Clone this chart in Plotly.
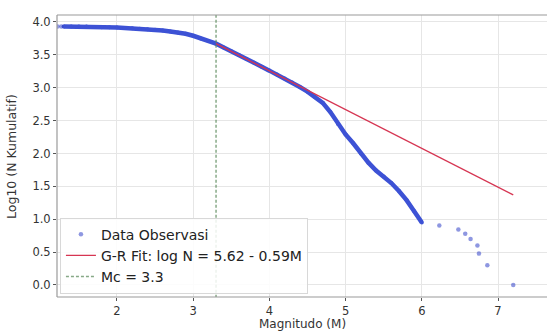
import plotly.graph_objects as go

# Observed cumulative counts (log10 N) — dense section read at 0.1 steps
obs_m = [1.3, 1.4, 1.5, 1.6, 1.7, 1.8, 1.9, 2.0, 2.1, 2.2, 2.3, 2.4, 2.5, 2.6, 2.7, 2.8, 2.9,
         3.0, 3.1, 3.2, 3.3, 3.4, 3.5, 3.6, 3.7, 3.8, 3.9, 4.0, 4.1, 4.2, 4.3, 4.4, 4.5,
         4.6, 4.7, 4.8, 4.9, 5.0, 5.1, 5.2, 5.3, 5.4, 5.5, 5.6, 5.7, 5.8, 5.9, 6.0]
obs_logn = [3.93, 3.93, 3.93, 3.93, 3.925, 3.92, 3.92, 3.915, 3.91, 3.905, 3.895, 3.89, 3.88,
            3.87, 3.855, 3.84, 3.82, 3.79, 3.75, 3.71, 3.67, 3.61, 3.555, 3.496, 3.437, 3.378,
            3.319, 3.26, 3.20, 3.14, 3.08, 3.01, 2.94, 2.86, 2.77, 2.63, 2.45, 2.29, 2.155,
            2.0, 1.86, 1.74, 1.65, 1.55, 1.43, 1.29, 1.12, 0.95]

# Sparse points (left start and large-magnitude tail)
sparse_m = [1.22, 1.27, 6.23, 6.48, 6.57, 6.64, 6.73, 6.75, 6.86, 7.20]
sparse_logn = [3.93, 3.93, 0.903, 0.845, 0.778, 0.699, 0.602, 0.477, 0.301, 0.0]

# Gutenberg-Richter fit line endpoints
fit_m = [3.3, 7.2]
fit_logn = [3.67, 1.37]
fit_label = "G-R Fit: log N = 5.62 - 0.59M"

# Magnitude of completeness
mc_value = 3.3
mc_label = "Mc = 3.3"

x_ticks = [2, 3, 4, 5, 6, 7]
y_ticks = [0.0, 0.5, 1.0, 1.5, 2.0, 2.5, 3.0, 3.5, 4.0]

x_range = [1.213, 7.643]
y_range = [-0.183, 4.106]

font_family = "DejaVu Sans, Liberation Sans, sans-serif"

fig = go.Figure()

# dense band of observed points
fig.add_trace(go.Scatter(
    x=obs_m, y=obs_logn, mode="lines+markers",
    line=dict(color="#3d52d5", width=4.5),
    marker=dict(color="#3d52d5", size=4),
    showlegend=False, hoverinfo="skip"))

fig.add_trace(go.Scatter(
    x=sparse_m, y=sparse_logn, mode="markers",
    marker=dict(color="rgba(50,65,200,0.55)", size=4.5),
    name="Data Observasi"))

fig.add_trace(go.Scatter(
    x=fit_m, y=fit_logn, mode="lines",
    line=dict(color="#d63552", width=1.3),
    name=fit_label))

fig.add_trace(go.Scatter(
    x=[mc_value, mc_value], y=[y_range[0] - 1, y_range[1] + 1], mode="lines",
    line=dict(color="rgba(95,140,95,0.75)", width=1.5, dash="3px,2px"),
    name=mc_label))

axis_common = dict(
    showgrid=True, gridcolor="#e6e6e6", gridwidth=1,
    zeroline=False, showline=False,
    ticks="outside", ticklen=3, tickcolor="#555",
    tickfont=dict(family=font_family, size=11.5, color="#333"),
)

fig.update_xaxes(range=x_range, tickvals=x_ticks, ticktext=[str(t) for t in x_ticks], **axis_common)
fig.update_yaxes(range=y_range, tickvals=y_ticks, ticktext=[f"{t:.1f}" for t in y_ticks], **axis_common)

# axis titles placed as annotations
fig.add_annotation(text="Magnitudo (M)", xref="paper", yref="paper", x=0.5, y=-0.0957,
                   xanchor="center", yanchor="middle", showarrow=False,
                   font=dict(family=font_family, size=12, color="#333"))
fig.add_annotation(text="Log10 (N Kumulatif)", xref="paper", yref="paper", x=-0.094, y=0.5,
                   xanchor="center", yanchor="middle", showarrow=False, textangle=-90,
                   font=dict(family=font_family, size=12.5, color="#333"))

# spines: left, bottom, top (right edge is cropped in the reference)
for x0, y0, x1, y1 in [(0, 0, 0, 1), (0, 0, 1, 0), (0, 1, 1, 1)]:
    fig.add_shape(type="line", xref="paper", yref="paper", x0=x0, y0=y0, x1=x1, y1=y1,
                  line=dict(color="#9a9a9a", width=1.2), layer="above")

fig.update_layout(
    width=547, height=331,
    margin=dict(l=57, r=0, t=15, b=34),
    paper_bgcolor="white", plot_bgcolor="white",
    font=dict(family=font_family, size=13, color="#222"),
    legend=dict(x=0.006, y=0.012, xanchor="left", yanchor="bottom",
                bgcolor="rgba(255,255,255,0.85)", bordercolor="#d8d8d8", borderwidth=1,
                font=dict(family=font_family, size=14, color="#222"),
                tracegroupgap=0, itemwidth=30),
)

fig.write_html("out.html", config={"displayModeBar": False},
               post_script="document.body.style.margin='0';document.body.style.padding='0';"
                           "document.body.style.overflow='hidden';")
